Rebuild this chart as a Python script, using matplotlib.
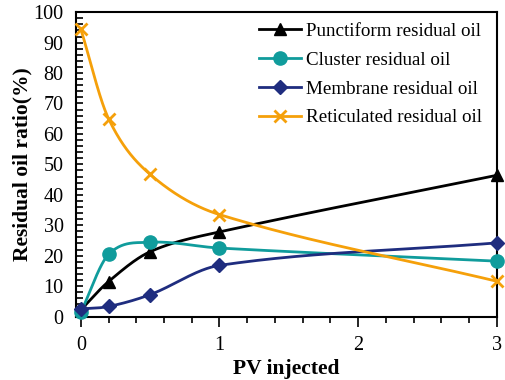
import numpy as np
import matplotlib
matplotlib.use("Agg")
import matplotlib.pyplot as plt
from matplotlib.ticker import MultipleLocator

plt.rcParams['font.family'] = ['Liberation Serif', 'DejaVu Serif']

# данные
pv = [0, 0.2, 0.5, 1, 3]
punctiform = [2.2, 11.5, 21.3, 27.8, 46.4]
cluster = [1.4, 20.4, 24.4, 22.5, 18.2]
membrane = [2.5, 3.3, 7.2, 16.8, 24.2]
reticulated = [94.4, 65.0, 46.7, 33.5, 11.6]

labels = ["Punctiform residual oil", "Cluster residual oil",
          "Membrane residual oil", "Reticulated residual oil"]
colors = ["#000000", "#109C9C", "#1F2D7F", "#F5A00A"]
markers = ["^", "o", "D", "x"]
msizes = [8, 9.5, 7, 9]


def smooth(x, y, n=60):
    # сглаженная кривая (кубический Эрмит, наклоны по соседним точкам)
    x = np.asarray(x, float)
    y = np.asarray(y, float)
    m = np.empty_like(y)
    m[0] = (y[1] - y[0]) / (x[1] - x[0])
    m[-1] = (y[-1] - y[-2]) / (x[-1] - x[-2])
    m[1:-1] = (y[2:] - y[:-2]) / (x[2:] - x[:-2])
    xs, ys = [], []
    for i in range(len(x) - 1):
        h = x[i + 1] - x[i]
        t = np.linspace(0, 1, n)
        h00 = 2 * t**3 - 3 * t**2 + 1
        h10 = t**3 - 2 * t**2 + t
        h01 = -2 * t**3 + 3 * t**2
        h11 = t**3 - t**2
        xs.extend(x[i] + t * h)
        ys.extend(h00 * y[i] + h10 * h * m[i] + h01 * y[i + 1] + h11 * h * m[i + 1])
    return xs, ys


fig = plt.figure(figsize=(5.05, 3.8), dpi=100)
ax = fig.add_axes([0.1505, 0.167, 0.833, 0.801])

for vals, lab, c, mk, ms in zip([punctiform, cluster, membrane, reticulated],
                                labels, colors, markers, msizes):
    sx, sy = smooth(pv, vals)
    ax.plot(sx, sy, color=c, lw=2, zorder=2)
    ax.plot(pv, vals, linestyle='none', marker=mk, color=c, ms=ms,
            mew=2 if mk == 'x' else 1, zorder=3, clip_on=False)
    ax.plot([], [], color=c, lw=2, marker=mk, ms=ms, mew=2 if mk == 'x' else 1, label=lab)

ax.set_xlim(-0.035, 3.0)
ax.set_ylim(0, 100)
ax.xaxis.set_major_locator(MultipleLocator(1))
ax.xaxis.set_minor_locator(MultipleLocator(0.2))
ax.yaxis.set_major_locator(MultipleLocator(10))
ax.yaxis.set_minor_locator(MultipleLocator(2))
ax.tick_params(axis='x', which='major', direction='out', length=7, width=1.2, labelsize=14.5, pad=7)
ax.tick_params(axis='x', which='minor', direction='out', length=4, width=1.2)
ax.tick_params(axis='y', which='major', direction='in', length=5, width=1.2, labelsize=14.5, pad=9)
ax.tick_params(axis='y', which='minor', direction='in', length=5, width=1.2)
for s in ax.spines.values():
    s.set_linewidth(1.5)

ax.set_xlabel("PV injected", fontsize=15.5, fontweight='bold', labelpad=3)
ax.set_ylabel("Residual oil ratio(%)", fontsize=15.5, fontweight='bold', labelpad=1)

ax.legend(loc='upper left', bbox_to_anchor=(0.435, 0.965), frameon=False,
          fontsize=13.7, handlelength=2.2, handletextpad=0.25, labelspacing=0.6,
          borderpad=0, borderaxespad=0)

plt.savefig('out.png', dpi=100)
